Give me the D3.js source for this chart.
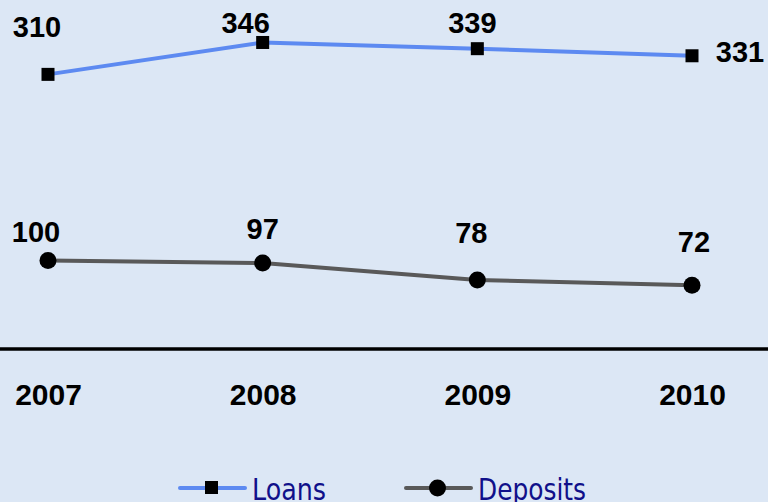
<!DOCTYPE html>
<html>
<head>
<meta charset="utf-8">
<script src="https://cdn.jsdelivr.net/npm/d3@7"></script>
<style>
  html, body { margin: 0; padding: 0; background: #dce7f5; }
  svg { display: block; }
</style>
</head>
<body>
<svg id="chart" width="768" height="502"></svg>
<script>
// Data
const years = ["2007", "2008", "2009", "2010"];
const loans = [310, 346, 339, 331];
const deposits = [100, 97, 78, 72];
const seriesNames = ["Loans", "Deposits"];

// Label nudges (px) relative to each point, so labels clear the lines
const loanLabelNudge = [[-11, -37], [-17, -9], [-5, -16], [48, 6]];
const depositLabelNudge = [[-12, -18], [0, -24], [-6, -37], [2, -33]];

const W = 768, H = 502;
const svg = d3.select("#chart");

svg.append("rect").attr("width", W).attr("height", H).attr("fill", "#dce7f5");

const x = d3.scalePoint().domain(years).range([48, 692]);
const y = d3.scaleLinear().domain([0, 390]).range([349, 3.5]);

const loanColor = "#5d8af1";
const depColor = "#595959";
const labelFont = "'Liberation Sans', Arial, sans-serif";

// Category axis: year labels under the baseline
const axis = d3.axisBottom(x).tickSize(0).tickPadding(0);
const gx = svg.append("g").attr("transform", `translate(0,${y(0)})`).call(axis);
gx.select(".domain").remove();
gx.selectAll("text")
  .attr("dy", 0)
  .attr("y", 56)
  .attr("font-family", labelFont)
  .attr("font-weight", "bold")
  .attr("font-size", 30)
  .attr("fill", "#000");

// Baseline across the full width
svg.append("line")
  .attr("x1", 0).attr("x2", W)
  .attr("y1", y(0)).attr("y2", y(0))
  .attr("stroke", "#000").attr("stroke-width", 3.5);

const line = d3.line().x(d => x(d.year)).y(d => y(d.value));

function drawSeries(values, color, marker, nudges) {
  const pts = values.map((v, i) => ({ year: years[i], value: v, i }));
  svg.append("path").datum(pts)
    .attr("fill", "none").attr("stroke", color)
    .attr("stroke-width", 4).attr("stroke-linejoin", "round")
    .attr("d", line);
  const g = svg.append("g");
  if (marker === "square") {
    g.selectAll("rect").data(pts).join("rect")
      .attr("x", d => x(d.year) - 6.5).attr("y", d => y(d.value) - 6.5)
      .attr("width", 13).attr("height", 13).attr("fill", "#000");
  } else {
    g.selectAll("circle").data(pts).join("circle")
      .attr("cx", d => x(d.year)).attr("cy", d => y(d.value))
      .attr("r", 8.5).attr("fill", "#000");
  }
  svg.append("g").selectAll("text").data(pts).join("text")
    .attr("x", d => x(d.year) + nudges[d.i][0])
    .attr("y", d => y(d.value) + nudges[d.i][1])
    .attr("text-anchor", "middle")
    .attr("font-family", labelFont)
    .attr("font-weight", "bold")
    .attr("font-size", 29)
    .attr("fill", "#000")
    .text(d => d.value);
}

drawSeries(loans, loanColor, "square", loanLabelNudge);
drawSeries(deposits, depColor, "circle", depositLabelNudge);

// Legend (condensed lettering, fitted to a fixed run length)
const legendFont = "'Liberation Sans Narrow', 'DejaVu Sans Condensed', 'Arial Narrow', sans-serif";
const legendItems = [
  { name: seriesNames[0], color: loanColor, marker: "square", x0: 180, len: 74 },
  { name: seriesNames[1], color: depColor, marker: "circle", x0: 406, len: 108 }
];
const ly = 488;
legendItems.forEach(it => {
  const g = svg.append("g");
  g.append("line")
    .attr("x1", it.x0).attr("x2", it.x0 + 65)
    .attr("y1", ly).attr("y2", ly)
    .attr("stroke", it.color).attr("stroke-width", 4).attr("stroke-linecap", "round");
  if (it.marker === "square") {
    g.append("rect").attr("x", it.x0 + 25).attr("y", ly - 7)
      .attr("width", 13).attr("height", 13).attr("fill", "#000");
  } else {
    g.append("circle").attr("cx", it.x0 + 31.5).attr("cy", ly).attr("r", 8.5).attr("fill", "#000");
  }
  g.append("text")
    .attr("x", it.x0 + 72).attr("y", 500)
    .attr("font-family", legendFont)
    .attr("font-size", 31)
    .attr("textLength", it.len)
    .attr("lengthAdjust", "spacingAndGlyphs")
    .attr("fill", "#10108a")
    .text(it.name);
});
</script>
</body>
</html>
